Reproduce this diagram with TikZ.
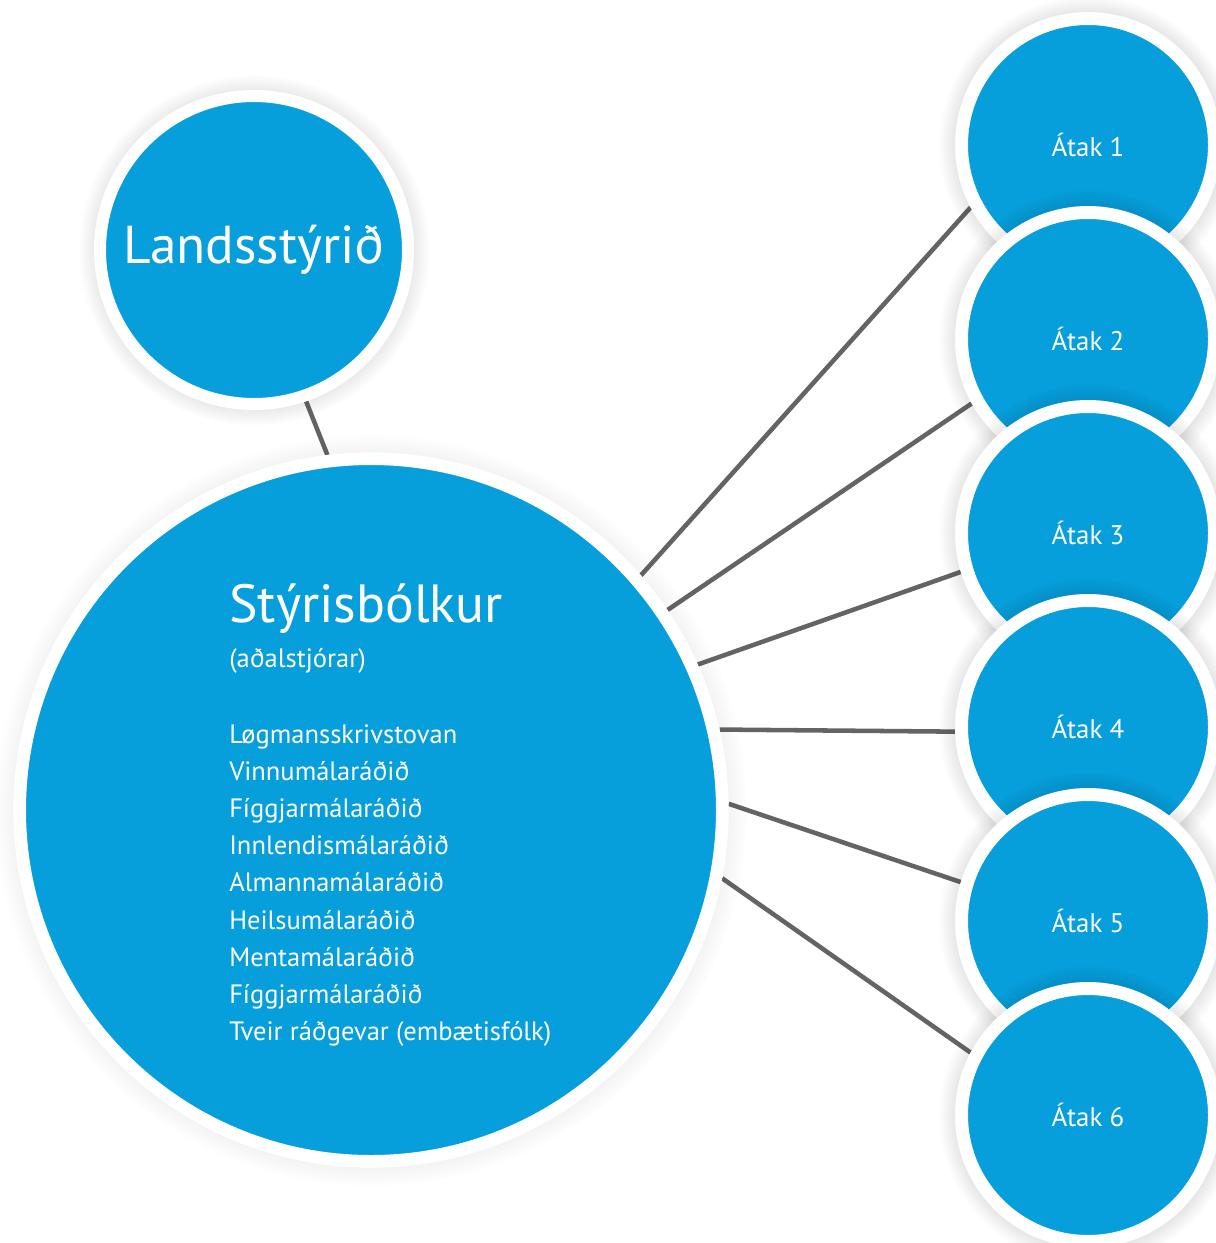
\documentclass[tikz,border=0pt]{standalone}
\usepackage{fontspec}
\setmainfont{PT Sans}
\usetikzlibrary{shadows,fadings}
\pgfdeclarelayer{background}
\pgfsetlayers{background,main}
\definecolor{bblue}{RGB}{6,158,219}
\definecolor{lgray}{RGB}{100,100,102}
\tikzset{
  bubble/.style={circle, fill=bblue, draw=white, text=white, inner sep=0pt},
  atak/.style={bubble, line width=9.75pt, minimum size=189.75pt,
    circular glow={fill=black, opacity=0.13, shadow scale=1.18},
    font=\fontsize{20.2}{22}\selectfont},
  link/.style={draw=lgray, line width=3.4pt},
  itemtext/.style={anchor=base west, text=white, inner sep=0pt, font=\fontsize{19.9}{22}\selectfont},
}

\begin{document}
\begin{tikzpicture}[x=0.75pt,y=0.75pt,yscale=-1,xscale=1]
\useasboundingbox (0,0) rectangle (1216,1243);

%Shape: Circle [Landsstyrid]
\node [bubble, line width=9pt, minimum size=231pt,
  circular glow={fill=black, opacity=0.13, shadow scale=1.14},
  font=\fontsize{40}{44}\selectfont] (lands) at (254,250) {Landsstýrið};
%Shape: Circle [Styrisbolkur]
\node [bubble, line width=9.5pt, minimum size=527pt,
  circular glow={fill=black, opacity=0.13, shadow scale=1.07}] (styri) at (371,810) {};

%Shape: Circles [Atak 1-6]
\node [atak] (at1) at (1088,145) {Átak 1};
\node [atak] (at2) at (1088,339) {Átak 2};
\node [atak] (at3) at (1088,533) {Átak 3};
\node [atak] (at4) at (1088,727) {Átak 4};
\node [atak] (at5) at (1088,921) {Átak 5};
\node [atak] (at6) at (1088,1115) {Átak 6};

% Text Node
\node [anchor=base west, text=white, inner sep=0pt, font=\fontsize{40.3}{44}\selectfont] (title) at (229,622) {Stýrisbólkur};
% Text Node
\node [itemtext] (sub) at (229,667) {(aðalstjórar)};
% Text Nodes
\node [itemtext] (i1) at (229,743) {Løgmansskrivstovan};
\node [itemtext] (i2) at (229,780.2) {Vinnumálaráðið};
\node [itemtext] (i3) at (229,817.4) {Fíggjarmálaráðið};
\node [itemtext] (i4) at (229,854.6) {Innlendismálaráðið};
\node [itemtext] (i5) at (229,891.8) {Almannamálaráðið};
\node [itemtext] (i6) at (229,929) {Heilsumálaráðið};
\node [itemtext] (i7) at (229,966.2) {Mentamálaráðið};
\node [itemtext] (i8) at (229,1003.4) {Fíggjarmálaráðið};
\node [itemtext] (i9) at (229,1040.6) {Tveir ráðgevar (embætisfólk)};

%Straight Lines
\begin{pgfonlayer}{background}
\draw [link] (lands.-71.8) -- (styri.97.9);
\draw [link] (styri.41.7) -- (at1.208.8);
\draw [link] (styri.34.2) -- (at2.209.6);
\draw [link] (styri.24.7) -- (at3.197.4);
\draw [link] (styri.13.1) -- (at4.182);
\draw [link] (styri.1.1) -- (at5.163.3);
\draw [link] (styri.-11.6) -- (at6.152.3);
\end{pgfonlayer}

\end{tikzpicture}
\end{document}
